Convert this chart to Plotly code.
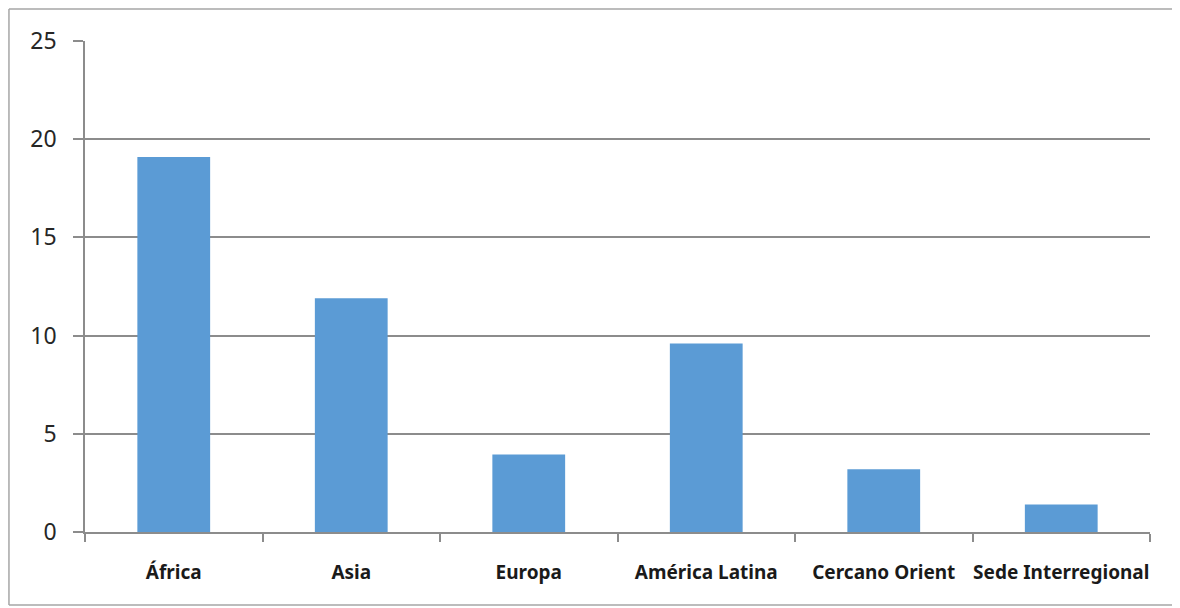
import plotly.graph_objects as go

categories = ["África", "Asia", "Europa", "América Latina", "Cercano Orient", "Sede Interregional"]
values = [19.1, 11.9, 3.95, 9.6, 3.2, 1.4]
y_ticks = [0, 5, 10, 15, 20, 25]

fig = go.Figure(go.Bar(x=categories, y=values, marker=dict(color="#5B9BD5", line=dict(width=0)),
                       width=0.41))

grid = "#8c8c8c"
border = dict(color="#a6a6a6", width=1.5)
bx0, bx1, by0, by1 = -0.0714, 1.2, -0.1487, 1.065
fig.update_layout(
    width=1180, height=608,
    margin=dict(l=77, r=38, t=33, b=84),
    paper_bgcolor="white", plot_bgcolor="white",
    showlegend=False,
    xaxis=dict(
        type="category", tickson="boundaries", ticks="outside", ticklen=8, tickwidth=1.5,
        tickcolor=grid, showline=True, linecolor=grid, linewidth=1.5, showgrid=False,
        tickfont=dict(family="Noto Sans", size=19, color="#1a1a1a", weight="bold"),
        ticklabelstandoff=22, tickangle=0, automargin=False,
    ),
    yaxis=dict(
        range=[0, 25], tickvals=y_ticks, ticks="outside", ticklen=10, tickwidth=1.5, tickcolor=grid,
        showgrid=True, gridcolor=grid, gridwidth=1.5, showline=True, linecolor=grid, linewidth=1.5,
        zeroline=False, automargin=False,
        tickfont=dict(family="Noto Sans", size=23, color="#262626"),
        ticklabelstandoff=12,
    ),
    shapes=[
        dict(type="line", xref="paper", yref="paper", x0=bx0, x1=bx1, y0=by1, y1=by1, line=border, layer="below"),
        dict(type="line", xref="paper", yref="paper", x0=bx0, x1=bx1, y0=by0, y1=by0, line=border, layer="below"),
        dict(type="line", xref="paper", yref="paper", x0=bx0, x1=bx0, y0=by0, y1=by1, line=border, layer="below"),
    ],
)

fig.write_html("out.html")
